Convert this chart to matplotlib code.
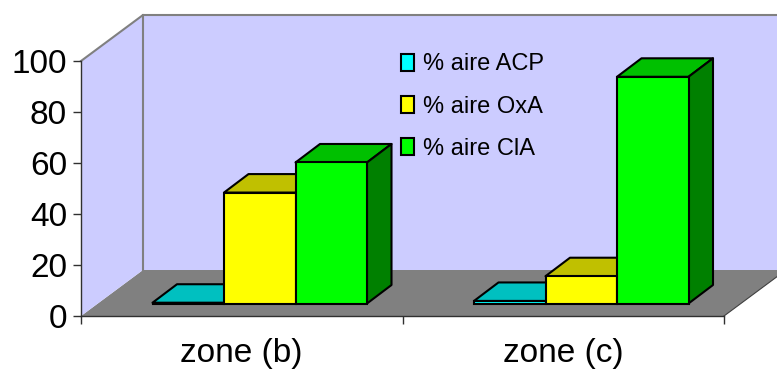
import matplotlib
matplotlib.use('Agg')
import matplotlib.pyplot as plt
from matplotlib.patches import Patch, Polygon

categories = ['zone (b)', 'zone (c)']
series_names = ['% aire ACP', '% aire OxA', '% aire ClA']
aire_acp = [0.3, 1.0]
aire_oxa = [43.5, 10.7]
aire_cla = [55.3, 88.9]
y_ticks = [0, 20, 40, 60, 80, 100]

front_colors = ['#00FFFF', '#FFFF00', '#00FF00']
top_colors = ['#00C0C0', '#C0C000', '#00C000']
side_colors = ['#008080', '#808000', '#008000']

W, H = 777, 369
plt.rcParams['font.family'] = ['Liberation Sans', 'DejaVu Sans']

fig = plt.figure(figsize=(W / 100, H / 100), dpi=100)
# axes = the front plane of the 3d box
ax = fig.add_axes([81 / W, 1 - 316 / H, (724 - 81) / W, (316 - 61) / H])
ax.set_xlim(0, 2)
ax.set_ylim(0, 100)
ax.patch.set_visible(False)

# pixel sizes turned into data units
px_x = 2 / (724 - 81)
px_y = 100 / (316 - 61)
box_dx, box_dy = 62 * px_x, 46 * px_y
bar_dx0, bar_dy0 = 18 * px_x, 12.5 * px_y
bar_dx, bar_dy = 24.5 * px_x, 18.5 * px_y
bar_w = 71.5 * px_x

wall = dict(clip_on=False, zorder=0)
ax.add_patch(Polygon([(0, 0), (box_dx, box_dy), (2 + box_dx, box_dy), (2, 0)],
                     fc='#808080', ec='none', **wall))
ax.add_patch(Polygon([(box_dx, box_dy), (box_dx, 100 + box_dy),
                      (2 + box_dx, 100 + box_dy), (2 + box_dx, box_dy)],
                     fc='#CCCCFF', ec='none', **wall))
ax.add_patch(Polygon([(0, 0), (0, 100), (box_dx, 100 + box_dy), (box_dx, box_dy)],
                     fc='#CCCCFF', ec='none', **wall))
ax.plot([0, box_dx, 2 + box_dx], [100, 100 + box_dy, 100 + box_dy], color='#808080',
        lw=1.5, clip_on=False, zorder=1)
ax.plot([box_dx, box_dx], [box_dy, 100 + box_dy], color='#808080', lw=1.5,
        clip_on=False, zorder=1)
ax.plot([2, 2 + box_dx], [0, box_dy], color='#404040', lw=0.8, clip_on=False, zorder=1)

z = 2
for i in range(len(categories)):
    for j, vals in enumerate([aire_acp, aire_oxa, aire_cla]):
        left = i + 0.5 + bar_dx0 + (j - 1.5) * bar_w
        right = left + bar_w
        base = bar_dy0
        top = base + vals[i]
        ax.add_patch(Polygon([(left, top), (left + bar_dx, top + bar_dy),
                              (right + bar_dx, top + bar_dy), (right, top)],
                             fc=top_colors[j], ec='black', lw=1.5, clip_on=False,
                             joinstyle='round', zorder=z))
        ax.add_patch(Polygon([(right, base), (right + bar_dx, base + bar_dy),
                              (right + bar_dx, top + bar_dy), (right, top)],
                             fc=side_colors[j], ec='black', lw=1.5, clip_on=False,
                             joinstyle='round', zorder=z))
        ax.bar(left, vals[i], bar_w, bottom=base, align='edge', color=front_colors[j],
               edgecolor='black', linewidth=1.5, clip_on=False, zorder=z + 1)
        z += 2

for s in ['top', 'right']:
    ax.spines[s].set_visible(False)
for s in ['left', 'bottom']:
    ax.spines[s].set_color('#303030')
    ax.spines[s].set_linewidth(1.0)
    ax.spines[s].set_zorder(1)

ax.set_yticks(y_ticks)
ax.tick_params(axis='y', labelsize=24, length=6, width=1.0, color='#303030', pad=4)
ax.set_xticks([0, 1, 2])
ax.set_xticklabels([])
ax.set_xticks([0.5, 1.5], categories, minor=True)
ax.tick_params(axis='x', which='major', length=6, width=1.0, color='#303030')
ax.tick_params(axis='x', which='minor', length=0, labelsize=24, pad=16)

handles = [Patch(fc=c, ec='black', lw=1.5) for c in front_colors]
fig.legend(handles, series_names, loc='upper left', bbox_to_anchor=(392 / W, 1 - 44 / H),
           frameon=False, fontsize=17, handlelength=0.55, handleheight=0.75,
           handletextpad=0.38, labelspacing=0.85, borderpad=0.4, borderaxespad=0)

fig.savefig('out.png', dpi=100)
